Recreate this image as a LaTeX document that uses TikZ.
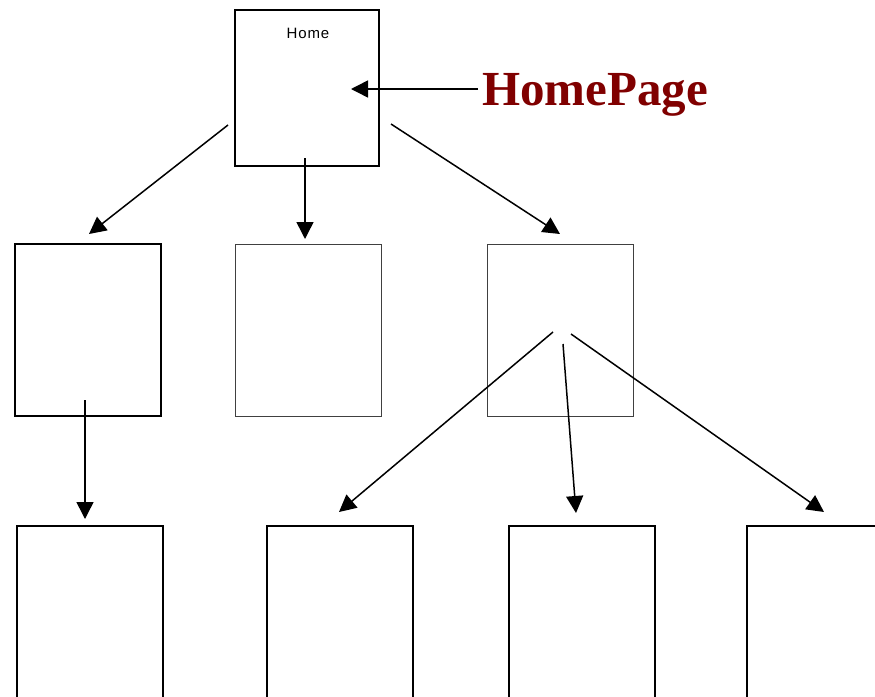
\documentclass[tikz,border=0pt]{standalone}
\usepackage{fontspec}
\setmainfont{Liberation Serif}
\newfontfamily\homefont[LetterSpace=6]{Liberation Sans}
\usetikzlibrary{arrows.meta}
\definecolor{hpred}{HTML}{800000}
\begin{document}
\begin{tikzpicture}[x=1pt,y=-1pt,
  page/.style={draw=black,line width=1.8pt,minimum width=146pt,minimum height=156pt,anchor=north west,inner sep=0pt,outer sep=0pt},
  thinpage/.style={draw=black!75,line width=0.8pt,anchor=north west,inner sep=0pt,outer sep=0pt},
  link/.style={line width=1.5pt,-{Triangle[length=17pt,width=17pt]}}]
\useasboundingbox (0,0) rectangle (875,696);
% boxes
\node[page,minimum width=144pt,minimum height=156pt] (home) at (235,10) {};
\node[page,minimum width=146pt,minimum height=172pt] (b1) at (15,244) {};
\node[thinpage,minimum width=146pt,minimum height=172pt] (b2) at (235,244) {};
\node[thinpage,minimum width=146pt,minimum height=172pt] (b3) at (487,244) {};
\node[page,minimum width=146pt,minimum height=180pt] (c1) at (17,526) {};
\node[page,minimum width=146pt,minimum height=180pt] (c2) at (267,526) {};
\node[page,minimum width=146pt,minimum height=180pt] (c3) at (509,526) {};
\node[page,minimum width=146pt,minimum height=180pt] (c4) at (747,526) {};
% texts
\node[font=\homefont\fontsize{15}{17}\selectfont,anchor=base] (hometxt) at (308,38) {Home};
\node[font=\bfseries\fontsize{49}{53}\selectfont,text=hpred,anchor=base west,inner sep=0pt] (hp) at (482,105) {HomePage};
% connector coordinates
\coordinate (s1) at (228,125); \coordinate (e1) at (89,234);
\coordinate (s2) at (305,158); \coordinate (e2) at (305,239);
\coordinate (s3) at (391,124); \coordinate (e3) at (560,234);
\coordinate (sh) at (478,89);  \coordinate (eh) at (351,89);
\coordinate (s4) at (85,400);  \coordinate (e4) at (85,519);
\coordinate (s5) at (553,332); \coordinate (e5) at (339,512);
\coordinate (s6) at (563,344); \coordinate (e6) at (576,513);
\coordinate (s7) at (571,334); \coordinate (e7) at (824,512);
\draw[link] (s1) -- (e1);
\draw[link] (s2) -- (e2);
\draw[link] (s3) -- (e3);
\draw[link] (sh) -- (eh);
\draw[link] (s4) -- (e4);
\draw[link] (s5) -- (e5);
\draw[link] (s6) -- (e6);
\draw[link] (s7) -- (e7);
\end{tikzpicture}
\end{document}
